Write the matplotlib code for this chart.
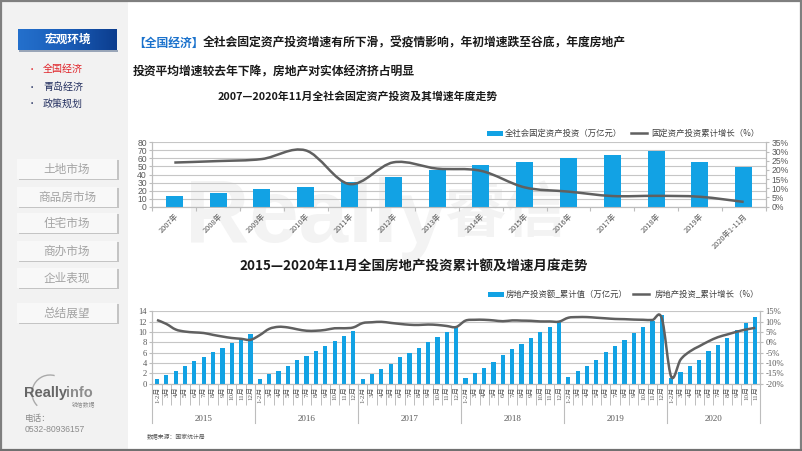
import numpy as np
import matplotlib
matplotlib.use('Agg')
import matplotlib.pyplot as plt
import matplotlib.transforms as mtransforms
from matplotlib.path import Path
from matplotlib.patches import PathPatch, Rectangle, Arc
from matplotlib.colors import LinearSegmentedColormap
from matplotlib.ticker import FuncFormatter

plt.rcParams['font.family'] = ['Noto Sans CJK SC', 'DejaVu Sans']

W, H = 802, 451

# ---- data: annual fixed asset investment ----
years = ['2007年', '2008年', '2009年', '2010年', '2011年', '2012年', '2013年',
         '2014年', '2015年', '2016年', '2017年', '2018年', '2019年', '2020年1-11月']
fai_value = [13.7, 17.0, 22.0, 24.8, 30.7, 37.3, 45.2, 51.4, 55.9, 60.1, 63.8, 69.2, 55.2, 49.7]
fai_growth = [24.0, 24.8, 25.9, 30.6, 12.3, 24.1, 20.7, 19.5, 10.5, 8.2, 5.8, 5.9, 5.4, 2.6]

# ---- data: monthly real estate investment ----
re_years = ['2015', '2016', '2017', '2018', '2019', '2020']
months = ['1-2月', '3月', '4月', '5月', '6月', '7月', '8月', '9月', '10月', '11月', '12月']
re_value = [
    0.84, 1.76, 2.46, 3.37, 4.46, 5.25, 6.06, 6.98, 7.86, 8.67, 9.60,
    0.88, 1.78, 2.54, 3.49, 4.62, 5.45, 6.25, 7.26, 8.22, 9.13, 10.26,
    0.94, 1.93, 2.79, 3.74, 5.09, 5.98, 6.86, 8.06, 9.06, 10.00, 10.98,
    1.07, 2.15, 3.09, 4.16, 5.59, 6.62, 7.63, 8.88, 9.93, 10.96, 12.03,
    1.20, 2.38, 3.42, 4.60, 6.16, 7.28, 8.41, 9.87, 10.92, 12.12, 13.22,
    1.01, 2.19, 3.39, 4.56, 6.28, 7.53, 8.83, 10.36, 11.66, 12.92,
]
re_growth = [
    10.8, 8.9, 6.2, 5.2, 4.8, 4.5, 3.6, 2.8, 2.1, 1.7, 1.2,
    3.5, 6.5, 7.5, 7.2, 6.3, 5.6, 5.6, 6.0, 6.8, 6.8, 7.2,
    9.3, 9.7, 9.9, 9.4, 8.9, 8.5, 8.4, 8.6, 8.4, 7.9, 7.4,
    10.5, 10.9, 10.9, 10.6, 10.2, 10.6, 10.5, 10.4, 10.1, 10.1, 10.0,
    11.9, 12.2, 12.2, 11.9, 11.6, 11.3, 11.2, 11.0, 10.9, 10.8, 11.6,
    -16.6, -8.4, -4.4, -1.9, 0.5, 2.5, 3.8, 5.1, 6.2, 7.0,
]
month_labels = []
year_counts = []
for y in re_years:
    m = months if y != '2020' else months[:10]
    month_labels += m
    year_counts.append(len(m))

BLUE = '#12a2e4'
LINE = '#606060'
GRID = '#c6c6c6'
AX = '#bdbdbd'
TXT = '#595959'
SERIF = ['Liberation Serif', 'Noto Sans CJK SC']
SANS = ['Liberation Sans', 'Noto Sans CJK SC']


def smooth(ax, xs, ys, **kw):
    # smoothed line through the data points (cubic bezier, catmull-rom style)
    p = np.column_stack([xs, ys]).astype(float)
    ext = np.vstack([p[0], p, p[-1]])
    verts = [p[0]]
    codes = [Path.MOVETO]
    for i in range(len(p) - 1):
        p0, p1, p2, p3 = ext[i], ext[i + 1], ext[i + 2], ext[i + 3]
        verts += [p1 + (p2 - p0) / 6, p2 - (p3 - p1) / 6, p2]
        codes += [Path.CURVE4] * 3
    ax.add_patch(PathPatch(Path(verts, codes), fill=False, **kw))


def ax_rect(l, t, r, b):
    return [l / W, 1 - b / H, (r - l) / W, (b - t) / H]


fig = plt.figure(figsize=(W / 100, H / 100), dpi=100)

# ---- background / slide furniture ----
bg = fig.add_axes([0, 0, 1, 1])
bg.axis('off')
bg.add_patch(Rectangle((0, 0), 128, H, color='#f2f2f2', lw=0, zorder=0))

grad = LinearSegmentedColormap.from_list('btn', ['#2470cc', '#1a5db8', '#0c3d8e'])
bg.add_patch(Rectangle((19, 50), 99, 1.5, color='#9aa6b8', lw=0, zorder=1))
bg.imshow(np.linspace(0, 1, 100).reshape(1, -1), cmap=grad, extent=[18, 117, 50, 29],
          aspect='auto', zorder=2)
bg.text(67.5, 39.5, '宏观环境', color='white', fontsize=8.4, fontweight='bold',
        ha='center', va='center', zorder=3)

sub = [('全国经济', '#e0242a', 69), ('青岛经济', '#243060', 87), ('政策规划', '#243060', 104)]
for s, c, yy in sub:
    bg.text(32, yy, '•', color=c, fontsize=6, ha='center', va='center')
    bg.text(43, yy, s, color=c, fontsize=7.2, ha='left', va='center')

buttons = [('土地市场', 169), ('商品房市场', 197), ('住宅市场', 223),
           ('商办市场', 251), ('企业表现', 278), ('总结展望', 313)]
for s, yc in buttons:
    bg.add_patch(Rectangle((18.5, yc - 9), 100, 20, color='#c4c4c4', lw=0, zorder=1))
    bg.add_patch(Rectangle((17, yc - 10.5), 100, 20, color='#f8f8f8', lw=0, zorder=1))
    bg.text(67, yc, s, color='#a3a3a3', fontsize=8.4, ha='center', va='center')

bg.add_patch(Arc((50, 393), 36, 36, theta1=135, theta2=285, color='#aaaaaa', lw=1))
bg.text(24, 397, 'Really', color='#666666', fontsize=10.5, fontweight='bold', family=SANS, va='baseline')
bg.text(66, 397, 'info', color='#8d8d8d', fontsize=10.5, fontweight='bold', family=SANS, va='baseline')
bg.text(95, 404, '锐信数据', color='#8d8d8d', fontsize=4.2, ha='right', va='center')
bg.text(25, 419, '电话：', color='#8c8c8c', fontsize=6.2, va='center')
bg.text(25, 430, '0532-80936157', color='#8c8c8c', fontsize=6.2, family=SANS, va='center')

# faint watermark
bg.text(185, 242, 'Really', color='#f3f3f3', fontsize=64, fontweight='bold', family=SANS, va='baseline')
bg.text(445, 232, '睿信', color='#f3f3f3', fontsize=44, fontweight='bold', va='baseline')

# header
bg.text(133, 43, '【全国经济】', color='#1b72cc', fontsize=8.5, fontweight='bold', va='center')
bg.text(203, 43, '全社会固定资产投资增速有所下滑，受疫情影响，年初增速跌至谷底，年度房地产',
        color='#1a1a1a', fontsize=8.5, fontweight='bold', va='center')
bg.text(133, 72, '投资平均增速较去年下降，房地产对实体经济挤占明显',
        color='#1a1a1a', fontsize=8.5, fontweight='bold', va='center')
bg.text(358, 96, '2007—2020年11月全社会固定资产投资及其增速年度走势',
        color='#1a1a1a', fontsize=7.8, fontweight='bold', ha='center', va='center')
bg.text(414, 266.5, '2015—2020年11月全国房地产投资累计额及增速月度走势',
        color='#1a1a1a', fontsize=9.7, fontweight='bold', ha='center', va='center')

# legends
bg.add_patch(Rectangle((487, 130.5), 16, 5.5, color=BLUE, lw=0))
bg.text(505, 133, '全社会固定资产投资（万亿元）', color='#404040', fontsize=6, va='center')
bg.plot([631, 647], [133, 133], color=LINE, lw=1.8)
bg.text(651, 133, '固定资产投资累计增长（%）', color='#404040', fontsize=6, va='center')

bg.add_patch(Rectangle((488, 291.5), 16, 5, color=BLUE, lw=0))
bg.text(506, 294, '房地产投资额_累计值（万亿元）', color='#404040', fontsize=6, va='center')
bg.plot([633, 649], [294, 294], color=LINE, lw=1.8)
bg.text(655, 294, '房地产投资_累计增长（%）', color='#404040', fontsize=6, va='center')

bg.text(147, 437, '数据来源：国家统计局', color='#555555', fontsize=4.2, va='center')

bg.add_patch(Rectangle((1, 1), W - 2, H - 2.5, fill=False, ec='#7f7f7f', lw=1.6))
bg.plot([0, W], [449.5, 449.5], color='#707070', lw=2)
bg.set_xlim(0, W)
bg.set_ylim(H, 0)


def style(ax, axr):
    ax.patch.set_alpha(0)
    ax.set_axisbelow(True)
    ax.grid(axis='y', color=GRID, lw=0.8, zorder=0)
    for a in (ax, axr):
        a.spines['top'].set_visible(False)
        for k in ('left', 'right', 'bottom'):
            a.spines[k].set_color(AX)
            a.spines[k].set_linewidth(0.8)
    ax.tick_params(axis='y', length=2.5, color=AX, pad=1.5)
    axr.tick_params(axis='y', length=2.5, color=AX, pad=1.5)


pct = FuncFormatter(lambda v, _: '%d%%' % v)

# ---- top chart ----
ax1 = fig.add_axes(ax_rect(152.4, 142.3, 765.6, 206.7))
x1 = np.arange(len(years))
ax1.bar(x1, fai_value, width=0.39, color=BLUE, zorder=3)
ax1.set_xlim(-0.5, len(years) - 0.5)
ax1.set_ylim(0, 80)
ax1.set_yticks(range(0, 81, 10))
ax1r = ax1.twinx()
ax1r.set_ylim(0, 35)
ax1r.set_yticks(range(0, 36, 5))
ax1r.yaxis.set_major_formatter(pct)
smooth(ax1r, x1, fai_growth, color=LINE, lw=1.8, zorder=4)
style(ax1, ax1r)
ax1.set_xticks(np.arange(-0.5, len(years), 1))
ax1.set_xticklabels([])
ax1.tick_params(axis='x', which='major', length=3, color=AX)
ax1.set_xticks(x1, minor=True)
ax1.set_xticklabels(years, minor=True, rotation=45, ha='right', rotation_mode='anchor',
                    fontsize=5.3, color=TXT)
ax1.tick_params(axis='x', which='minor', length=0, pad=4)
for lab in ax1.get_yticklabels() + ax1r.get_yticklabels():
    lab.set_fontsize(6.2)
    lab.set_color(TXT)
    lab.set_family(SANS)

# ---- bottom chart ----
ax2 = fig.add_axes(ax_rect(152.3, 311.3, 760.0, 383.7))
x2 = np.arange(len(re_value))
ax2.bar(x2, re_value, width=0.45, color=BLUE, zorder=3)
ax2.set_xlim(-0.5, len(re_value) - 0.5)
ax2.set_ylim(0, 14)
ax2.set_yticks(range(0, 15, 2))
ax2r = ax2.twinx()
ax2r.set_ylim(-20, 15)
ax2r.set_yticks(range(-20, 16, 5))
ax2r.yaxis.set_major_formatter(pct)
smooth(ax2r, x2, re_growth, color=LINE, lw=1.8, zorder=4)
style(ax2, ax2r)
ax2.set_xticks(np.arange(-0.5, len(re_value), 1))
ax2.set_xticklabels([])
ax2.tick_params(axis='x', which='major', length=15, color=AX, width=0.7)
ax2.set_xticks(x2, minor=True)
ax2.set_xticklabels(month_labels, minor=True, rotation=90, ha='center', va='top',
                    fontsize=5, color=TXT, family=SERIF)
ax2.tick_params(axis='x', which='minor', length=0, pad=2)
for lab in ax2.get_yticklabels() + ax2r.get_yticklabels():
    lab.set_fontsize(6.2)
    lab.set_color(TXT)
    lab.set_family(SERIF)

# year group separators and labels
tr = mtransforms.blended_transform_factory(ax2.transData, ax2.transAxes)
axh = 383.7 - 311.3
start = -0.5
for yname, cnt in zip(re_years, year_counts):
    ax2.plot([start, start], [0, -39.5 / axh], color=AX, lw=0.8, transform=tr, clip_on=False)
    ax2.text(start + cnt / 2, -35.5 / axh, yname, transform=tr, ha='center', va='center',
             fontsize=6.5, color=TXT, family=SERIF)
    start += cnt
ax2.plot([start, start], [0, -39.5 / axh], color=AX, lw=0.8, transform=tr, clip_on=False)

fig.savefig('out.png', dpi=100)
